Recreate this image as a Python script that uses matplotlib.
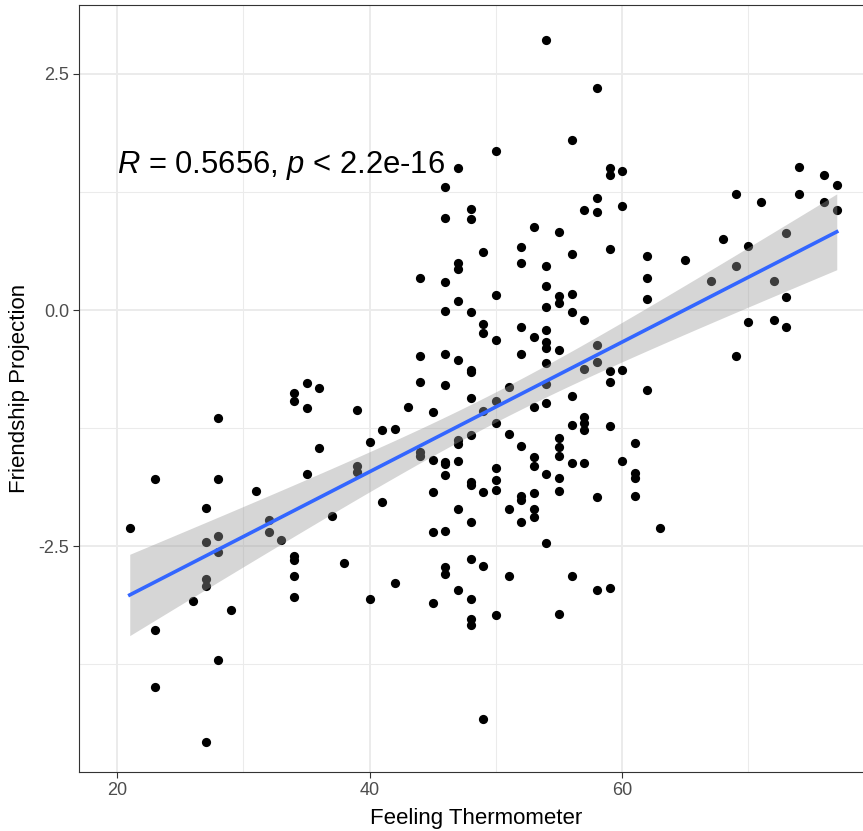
import numpy as np
import matplotlib
matplotlib.use("Agg")
import matplotlib.pyplot as plt
from matplotlib.ticker import FixedLocator

plt.rcParams['font.family'] = ['Liberation Sans', 'DejaVu Sans']
plt.rcParams['mathtext.fontset'] = 'custom'
plt.rcParams['mathtext.rm'] = 'Liberation Sans'
plt.rcParams['mathtext.it'] = 'Liberation Sans:italic'

# ---- data ----
feeling = [
    21,
    23, 23, 23,
    26,
    27, 27, 27, 27, 27,
    28, 28, 28, 28, 28,
    29,
    31,
    32, 32,
    33,
    34, 34, 34, 34, 34, 34,
    35, 35, 35,
    36, 36,
    37,
    38,
    39, 39, 39,
    40, 40,
    41, 41,
    42, 42,
    43,
    44, 44, 44, 44, 44,
    45, 45, 45, 45, 45,
    46, 46, 46, 46, 46, 46, 46, 46, 46, 46, 46, 46,
    47, 47, 47, 47, 47, 47, 47, 47, 47, 47,
    48, 48, 48, 48, 48, 48, 48, 48, 48, 48, 48, 48, 48, 48,
    49, 49, 49, 49, 49, 49, 49,
    50, 50, 50, 50, 50, 50, 50, 50, 50,
    51, 51, 51, 51,
    52, 52, 52, 52, 52, 52, 52, 52,
    53, 53, 53, 53, 53, 53, 53, 53,
    54, 54, 54, 54, 54, 54, 54, 54, 54, 54, 54, 54,
    55, 55, 55, 55, 55, 55, 55, 55, 55, 55,
    56, 56, 56, 56, 56, 56, 56, 56,
    57, 57, 57, 57, 57, 57, 57,
    58, 58, 58, 58, 58, 58, 58,
    59, 59, 59, 59, 59, 59, 59,
    60, 60, 60, 60,
    61, 61, 61, 61,
    62, 62, 62, 62,
    63,
    65,
    67,
    68,
    69, 69, 69,
    70, 70,
    71,
    72, 72,
    73, 73, 73,
    74, 74,
    76, 76,
    77, 77,
]
projection = [
    -2.31,
    -1.79, -3.39, -3.99,
    -3.08,
    -2.09, -2.45, -2.85, -2.92, -4.57,
    -1.14, -1.79, -2.39, -2.56, -3.70,
    -3.17,
    -1.92,
    -2.22, -2.35,
    -2.43,
    -0.88, -0.96, -2.60, -2.65, -2.82, -3.04,
    -0.77, -1.04, -1.73,
    -0.82, -1.46,
    -2.18,
    -2.68,
    -1.06, -1.65, -1.71,
    -1.40, -3.06,
    -1.27, -2.03,
    -1.26, -2.89,
    -1.03,
    0.34, -0.49, -0.76, -1.50, -1.54,
    -1.08, -1.59, -1.93, -2.35, -3.10,
    1.30, 0.97, 0.30, -0.01, -0.47, -0.79, -1.61, -1.63, -1.75, -2.34, -2.72, -2.79,
    1.50, 0.50, 0.44, 0.10, -0.53, -1.37, -1.42, -1.60, -2.11, -2.96,
    1.07, 0.96, -0.02, -0.63, -0.66, -0.93, -1.32, -1.82, -1.85, -2.24, -2.63, -3.06, -3.27, -3.33,
    0.62, -0.15, -0.24, -1.07, -1.93, -2.71, -4.33,
    1.68, 0.16, -0.32, -0.96, -1.20, -1.67, -1.80, -1.90, -3.23,
    -0.81, -1.31, -2.11, -2.82,
    0.67, 0.50, -0.18, -0.46, -1.44, -1.97, -2.01, -2.24,
    0.88, -0.28, -1.03, -1.55, -1.65, -1.94, -2.11, -2.19,
    2.86, 0.47, 0.25, 0.03, -0.21, -0.34, -0.40, -0.56, -0.78, -0.98, -1.74, -2.47,
    0.83, 0.15, 0.08, -0.42, -1.35, -1.45, -1.54, -1.78, -1.92, -3.22,
    1.80, 0.59, 0.17, -0.02, -0.91, -1.22, -1.62, -2.81,
    1.06, -0.11, -0.62, -1.13, -1.19, -1.27, -1.62,
    2.35, 1.19, 1.04, -0.37, -0.55, -1.98, -2.96,
    1.50, 1.43, 0.65, -0.65, -0.76, -1.23, -2.94,
    1.47, 1.10, -0.63, -1.60,
    -1.41, -1.72, -1.78, -1.97,
    0.57, 0.34, 0.12, -0.85,
    -2.31,
    0.53,
    0.31,
    0.75,
    1.23, 0.47, -0.49,
    0.68, -0.13,
    1.14,
    0.31, -0.10,
    0.82, 0.14, -0.18,
    1.51, 1.23,
    1.43, 1.14,
    1.32, 1.06,
]
x_ticks = [20, 40, 60]
y_ticks = [-2.5, 0.0, 2.5]
y_tick_labels = ["-2.5", "0.0", "2.5"]
label_text = r"$\it{R}$ = 0.5656, $\it{p}$ < 2.2e-16"

x = np.asarray(feeling, dtype=float)
y = np.asarray(projection, dtype=float)

# linear fit + 95% confidence band (like geom_smooth(method = "lm"))
n = len(x)
slope, intercept = np.polyfit(x, y, 1)
resid = y - (intercept + slope * x)
s = np.sqrt(np.sum(resid ** 2) / (n - 2))
xbar = x.mean()
sxx = np.sum((x - xbar) ** 2)
xs = np.linspace(x.min(), x.max(), 200)
yhat = intercept + slope * xs
se = s * np.sqrt(1.0 / n + (xs - xbar) ** 2 / sxx)
tq = 1.9706
lo, hi = yhat - tq * se, yhat + tq * se

fig = plt.figure(figsize=(8.63, 8.31), dpi=100)
# the panel runs past the right edge of the picture (cropped, as in the reference)
ax = fig.add_axes([79 / 863, 1 - 772 / 831, (873 - 79) / 863, (772 - 5) / 831])

ax.set_xlim(16.98, 79.87)
ax.set_ylim(-4.89, 3.23)

ax.xaxis.set_major_locator(FixedLocator(x_ticks))
ax.yaxis.set_major_locator(FixedLocator(y_ticks))
ax.xaxis.set_minor_locator(FixedLocator([30, 50, 70]))
ax.yaxis.set_minor_locator(FixedLocator([-3.75, -1.25, 1.25]))
ax.set_yticklabels(y_tick_labels)

ax.grid(True, which='major', color='#EBEBEB', linewidth=1.4, zorder=0)
ax.grid(True, which='minor', color='#EBEBEB', linewidth=0.75, zorder=0)
ax.set_axisbelow(True)

ax.scatter(x, y, s=44, color='black', linewidths=0, zorder=2)
ax.fill_between(xs, lo, hi, color='#999999', alpha=0.4, linewidth=0, zorder=3)
ax.plot(xs, yhat, color='#3366FF', linewidth=2.6, zorder=4)

ax.text(20, 1.53, label_text, fontsize=22.3, va='center', ha='left', zorder=5)

for sp in ax.spines.values():
    sp.set_color('#333333')
    sp.set_linewidth(0.8)

ax.tick_params(which='major', length=4, width=0.8, color='#333333',
               labelcolor='#4D4D4D', labelsize=13, pad=3)
ax.tick_params(which='minor', length=0)

ax.set_xlabel("Feeling Thermometer", fontsize=16, color='black', labelpad=7)
ax.set_ylabel("Friendship Projection", fontsize=16, color='black', labelpad=6)

fig.savefig("out.png", dpi=100)
